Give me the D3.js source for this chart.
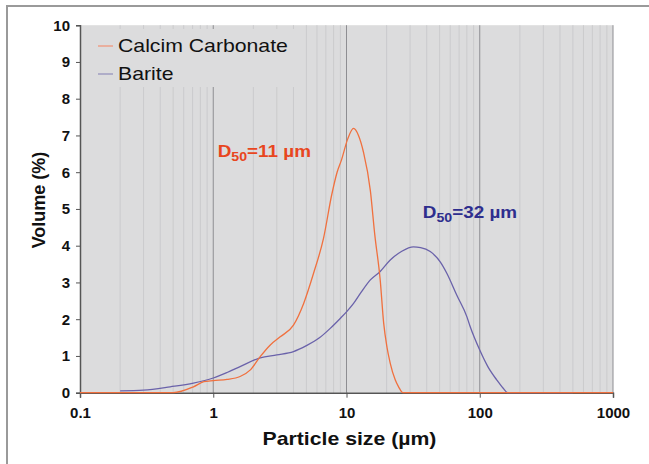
<!DOCTYPE html>
<html><head><meta charset="utf-8">
<script src="https://cdn.jsdelivr.net/npm/d3@7"></script>
<style>body{margin:0;background:#fff}svg{display:block;font-family:"Liberation Sans",Arial,sans-serif}</style>
</head><body><svg id="c" width="649" height="464"></svg>
<script>
const seriesNames = ["Calcim Carbonate", "Barite"];
const calciteX = [0.1,0.3,0.5,0.71,0.85,1.0,1.27,1.59,1.9,2.25,2.68,3.18,4.0,4.77,5.66,6.72,7.76,8.5,9.2,10.2,11.3,12.3,13.4,15.1,16.3,17.9,19.0,20.1,21.3,23.2,24.6,26.5,100,1000];
const calciteY = [0,0,0,0.16,0.30,0.33,0.36,0.44,0.62,0.98,1.30,1.52,1.84,2.43,3.25,4.2,5.4,6.0,6.35,6.9,7.19,7.0,6.55,5.5,4.3,3.07,1.9,1.25,0.8,0.35,0.16,0,0,0];
const bariteX = [0.2,0.3,0.475,0.71,1.0,1.27,1.59,2.25,3.0,4.0,5.0,6.3,7.55,8.97,10,11.3,12.7,15.1,17.9,21.3,26,31.8,36,42.5,50.5,56.6,67.3,80,84.7,100,115,134,150,162,500];
const bariteY = [0.05,0.07,0.16,0.26,0.40,0.55,0.71,0.95,1.03,1.12,1.28,1.5,1.75,2.02,2.2,2.43,2.7,3.07,3.3,3.61,3.85,3.97,3.95,3.84,3.56,3.25,2.65,2.07,1.80,1.16,0.71,0.35,0.12,0,0];
const xTicks = [0.1,1,10,100,1000];
const xTickLabels = ["0.1","1","10","100","1000"];
const yTicks = [0,1,2,3,4,5,6,7,8,9,10];
const annotations = [
  {pre:"D", sub:"50", post:"=11 µm", x:1.08, y:6.41, color:"#e8461e"},
  {pre:"D", sub:"50", post:"=32 µm", x:37.4, y:4.75, color:"#2e2e8e"}
];

const svg = d3.select("#c");
const L=80, R=613, T=25.2, B=392.7;
const SX = 1.18; // horizontal text stretch seen in the reference
const x = d3.scaleLog().domain([0.1,1000]).range([L,R]);
const y = d3.scaleLinear().domain([0,10]).range([B,T]);

svg.append("rect").attr("x",7).attr("y",6).attr("width",660).attr("height",480)
  .attr("fill","none").attr("stroke","#9a9a9a").attr("stroke-width",2);

svg.append("rect").attr("x",L).attr("y",T).attr("width",R-L).attr("height",B-T).attr("fill","#dcdcdd");

const minor=[];
for (let e=-1;e<3;e++) for (let m=2;m<=9;m++) minor.push(m*Math.pow(10,e));
svg.append("g").selectAll("line").data(minor).join("line")
  .attr("x1",d=>x(d)).attr("x2",d=>x(d)).attr("y1",T).attr("y2",B)
  .attr("stroke","#cbcbcd").attr("stroke-width",1);
svg.append("g").selectAll("line").data([1,10,100,1000]).join("line")
  .attr("x1",d=>x(d)).attr("x2",d=>x(d)).attr("y1",T).attr("y2",B)
  .attr("stroke","#8e8e92").attr("stroke-width",1);

svg.append("rect").attr("x",L+1).attr("y",29).attr("width",224).attr("height",58).attr("fill","#dcdcdd");

const xa = svg.append("g").attr("transform",`translate(0,${B})`)
  .call(d3.axisBottom(x).tickValues(xTicks).tickFormat((d,i)=>xTickLabels[i]).tickSize(5).tickPadding(10));
const ya = svg.append("g").attr("transform",`translate(${L},0)`)
  .call(d3.axisLeft(y).tickValues(yTicks).tickSize(4).tickPadding(6));
[xa,ya].forEach(a=>{
  a.select(".domain").attr("stroke","#555").attr("stroke-width",1.5);
  a.selectAll(".tick line").attr("stroke","#555");
  a.selectAll("text").attr("fill","#111").attr("font-size",15).attr("font-weight","bold")
   .attr("font-family","'Liberation Sans',Arial,sans-serif");
});

const line = d3.line().x(d=>x(d[0])).y(d=>y(d[1])).curve(d3.curveMonotoneX);
svg.append("path").datum(bariteX.map((v,i)=>[v,bariteY[i]])).attr("d",line)
  .attr("fill","none").attr("stroke","#6a62aa").attr("stroke-width",1.3);
svg.append("path").datum(calciteX.map((v,i)=>[v,calciteY[i]])).attr("d",line)
  .attr("fill","none").attr("stroke","#f0703e").attr("stroke-width",1.3);

const legColors=["#eea088","#a09ec0"];
seriesNames.forEach((n,i)=>{
  const yy = 46 + i*28;
  svg.append("line").attr("x1",98).attr("x2",113).attr("y1",yy).attr("y2",yy)
    .attr("stroke",legColors[i]).attr("stroke-width",1.5);
  svg.append("text").attr("transform",`translate(118,${yy+6}) scale(${SX},1)`).text(n)
    .attr("font-size",18).attr("fill","#111");
});

annotations.forEach(a=>{
  const t = svg.append("text").attr("transform",`translate(${x(a.x)},${y(a.y)}) scale(${SX},1)`)
    .attr("fill",a.color).attr("font-weight","bold").attr("font-size",16);
  t.append("tspan").text(a.pre);
  t.append("tspan").text(a.sub).attr("font-size",12).attr("dy",4);
  t.append("tspan").text(a.post).attr("dy",-4);
});

svg.append("text").attr("transform",`translate(${(L+R)/2+3},445) scale(${SX},1)`).attr("text-anchor","middle")
  .attr("font-size",18).attr("font-weight","bold").attr("fill","#111").text("Particle size (µm)");
svg.append("text").attr("transform","translate(45,200) rotate(-90)").attr("text-anchor","middle")
  .attr("font-size",18).attr("font-weight","bold").attr("fill","#111").text("Volume (%)");
</script></body></html>
